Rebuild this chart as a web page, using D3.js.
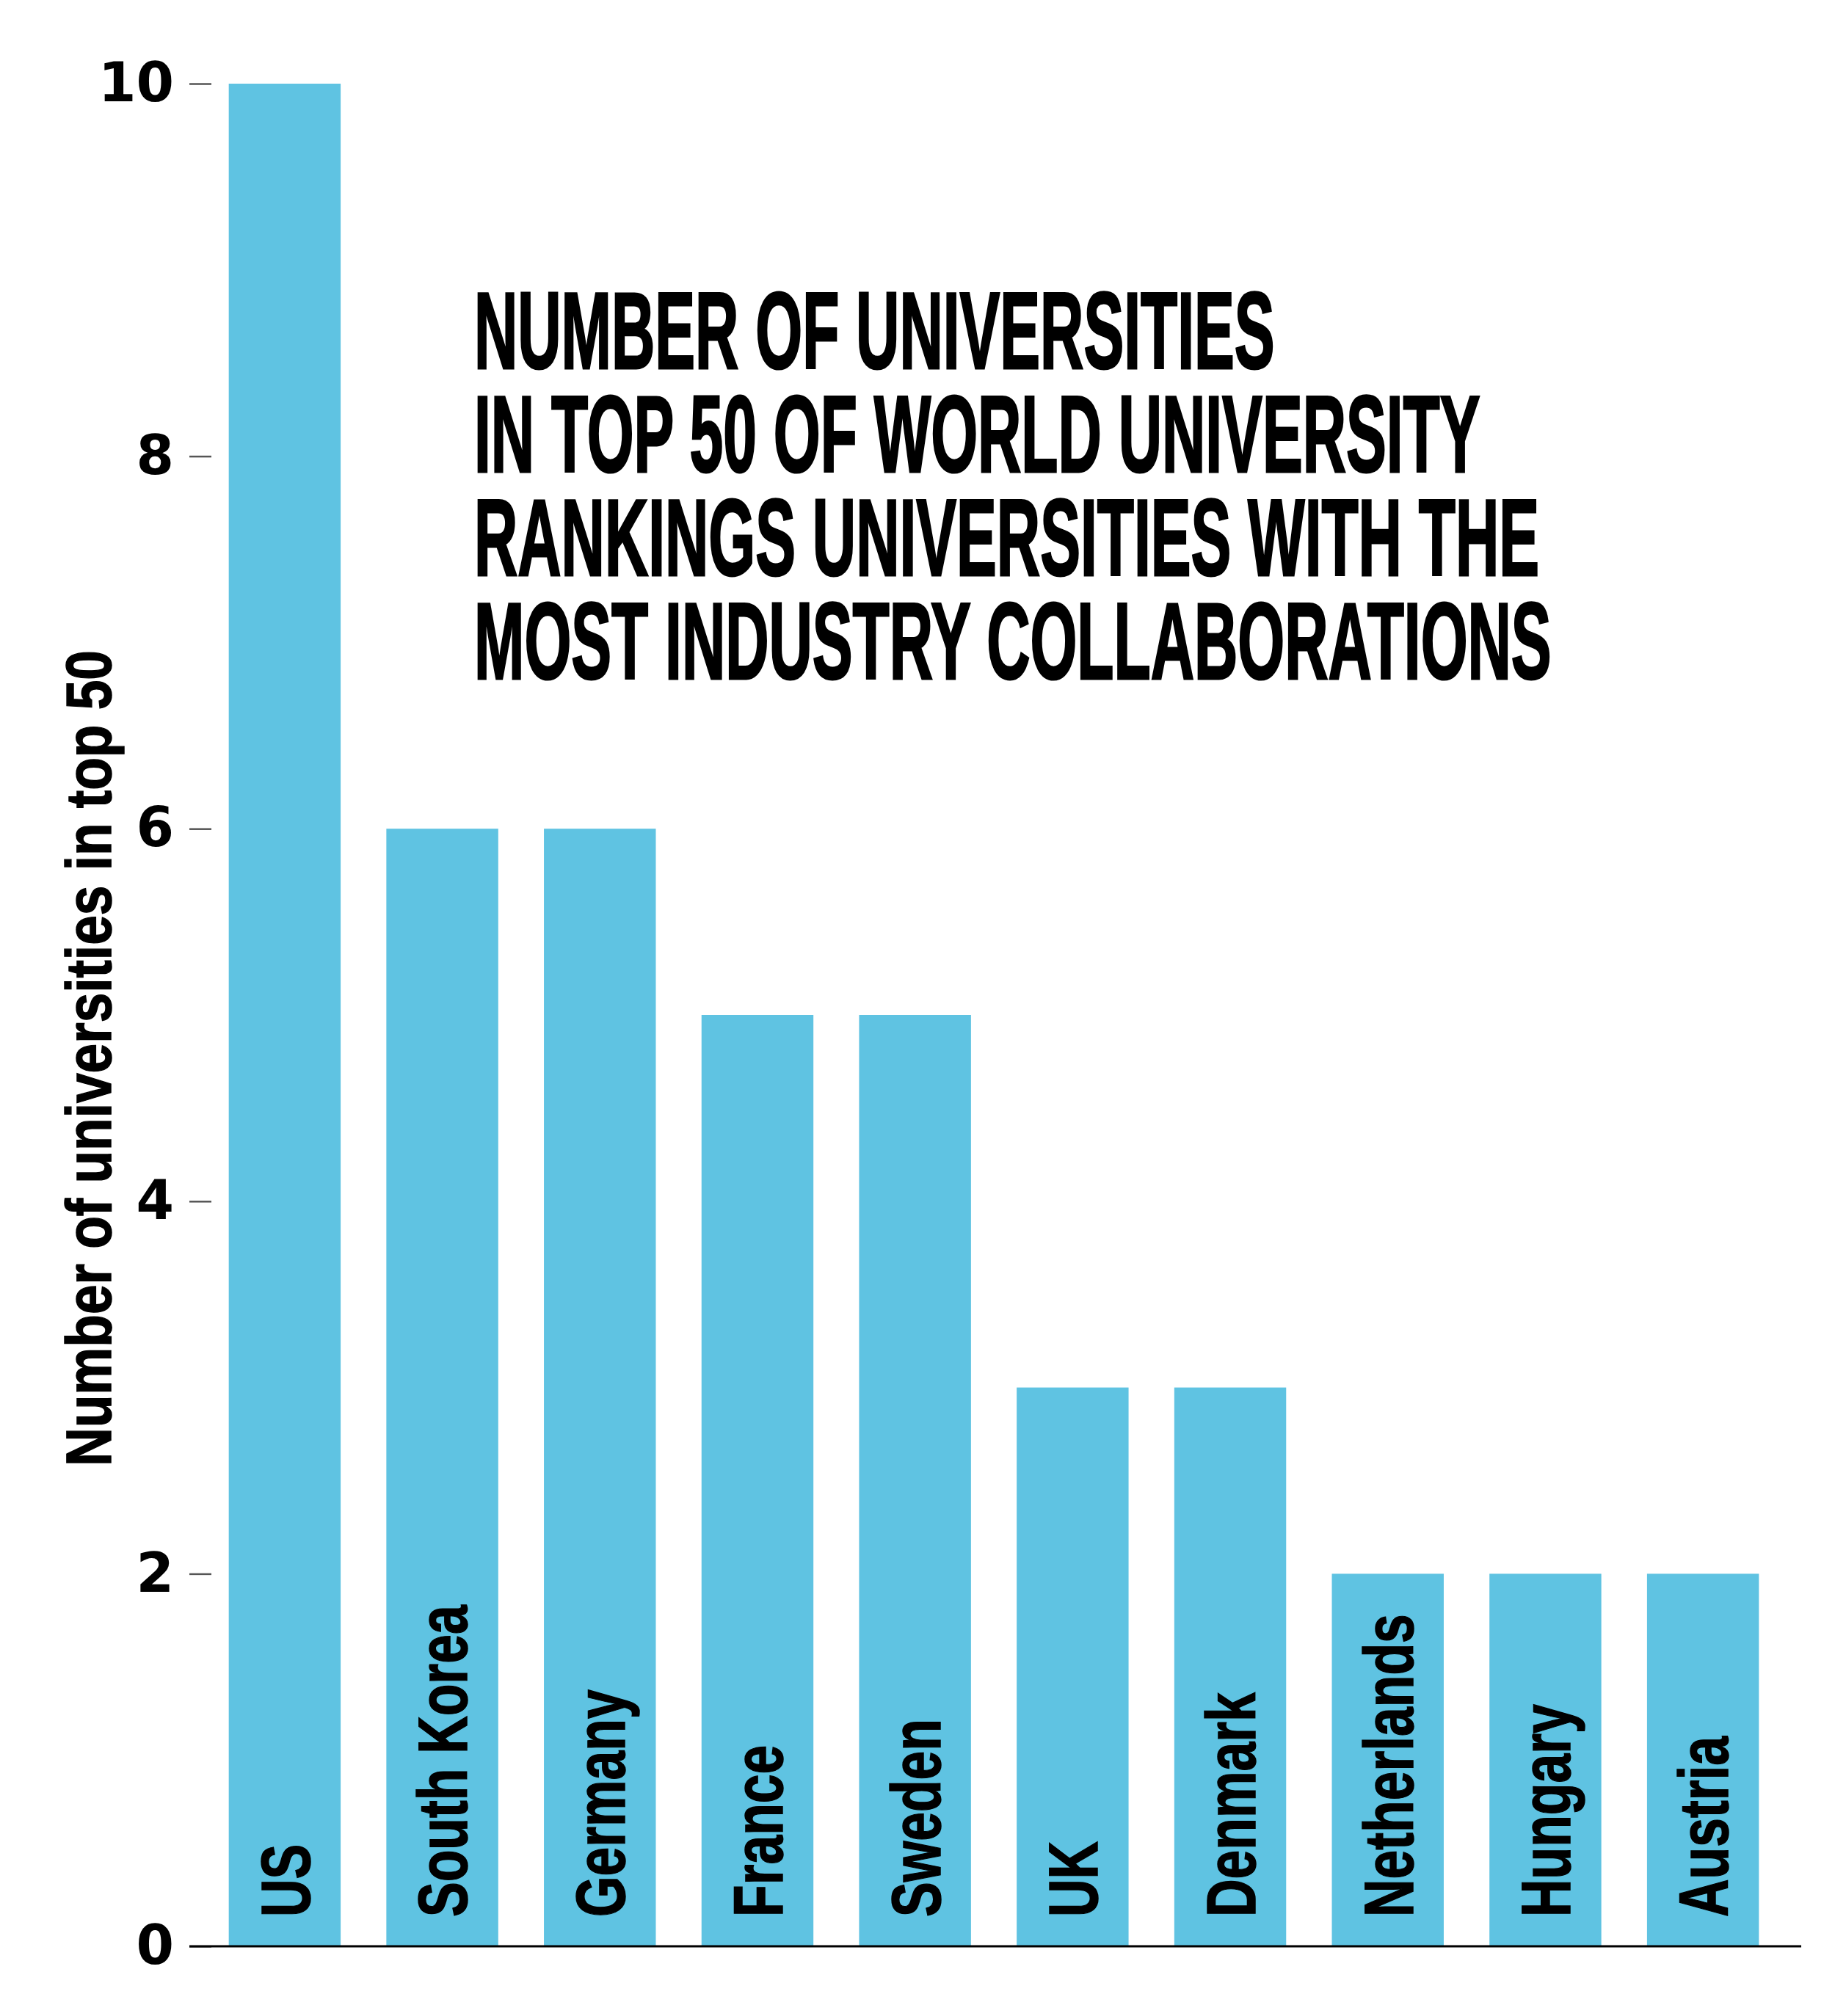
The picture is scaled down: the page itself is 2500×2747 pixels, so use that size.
<!DOCTYPE html>
<meta charset="utf-8">
<script src="https://d3js.org/d3.v7.min.js"></script>
<style>
  body { margin: 0; background: #fff; }
  text { font-family: "Liberation Sans", Arial, sans-serif; font-weight: bold; fill: #000; }
</style>
<body>
<div id="chart"></div>
<script>
  // data
  const countries = ["US", "South Korea", "Germany", "France", "Sweden", "UK", "Denmark", "Netherlands", "Hungary", "Austria"];
  const counts = [10, 6, 6, 5, 5, 3, 3, 2, 2, 2];
  const yTicks = [0, 2, 4, 6, 8, 10];
  const titleLines = [
    "NUMBER OF UNIVERSITIES",
    "IN TOP 50 OF WORLD UNIVERSITY",
    "RANKINGS UNIVERSITIES WITH THE",
    "MOST INDUSTRY COLLABORATIONS"
  ];
  const yLabel = "Number of universities in top 50";

  const W = 2500, H = 2747;
  const margin = {top: 114, right: 50, bottom: 95, left: 258};

  const svg = d3.select("#chart").append("svg")
    .attr("width", W)
    .attr("height", H);

  const data = countries.map((c, i) => ({country: c, value: counts[i]}));

  const x = d3.scaleBand()
    .domain(countries)
    .range([margin.left, W - margin.right])
    .paddingInner(0.29)
    .paddingOuter(0.25);

  const y = d3.scaleLinear()
    .domain([0, 10])
    .range([H - margin.bottom, margin.top]);

  // bars
  svg.append("g")
    .selectAll("rect")
    .data(data)
    .join("rect")
      .attr("x", d => x(d.country))
      .attr("y", d => y(d.value))
      .attr("width", x.bandwidth())
      .attr("height", d => y(0) - y(d.value))
      .attr("fill", "#5fc3e2");

  // bar labels, rotated, inside the bars
  svg.append("g")
    .selectAll("text")
    .data(data)
    .join("text")
      .attr("transform", d => `translate(${x(d.country) + x.bandwidth() / 2}, ${y(0) - 40}) rotate(-90) scale(0.76,1)`)
      .attr("dy", "0.36em")
      .attr("stroke", "#000")
      .attr("stroke-width", 1.5)
      .style("font-size", "94px")
      .text(d => d.country);

  // y axis: short ticks, no domain line
  const yAxis = svg.append("g")
    .attr("transform", `translate(${margin.left + 30}, 0)`)
    .call(d3.axisLeft(y).tickValues(yTicks).tickSize(30).tickPadding(21).tickFormat(d3.format("d")));
  yAxis.select(".domain").remove();
  yAxis.selectAll(".tick line").attr("stroke", "#555").attr("stroke-width", 2.5);
  yAxis.selectAll(".tick text")
    .style("font-size", "74px")
    .style("font-family", "'DejaVu Sans', sans-serif")
    .attr("fill", "#000");

  // baseline
  svg.append("line")
    .attr("x1", margin.left)
    .attr("x2", 2454)
    .attr("y1", y(0))
    .attr("y2", y(0))
    .attr("stroke", "#000")
    .attr("stroke-width", 3);

  // y axis title, bottom end fixed
  svg.append("text")
    .attr("transform", `translate(119, 1998) rotate(-90) scale(0.83,1)`)
    .attr("text-anchor", "start")
    .attr("dy", "0.36em")
    .attr("stroke", "#000")
    .attr("stroke-width", 1.5)
    .style("font-size", "88px")
    .text(yLabel);

  // title block - one text, a tspan per line
  svg.append("text")
    .attr("transform", "translate(646, 502) scale(0.555,1)")
    .attr("stroke", "#000")
    .attr("stroke-width", 3)
    .style("font-size", "148px")
    .selectAll("tspan")
    .data(titleLines)
    .join("tspan")
      .attr("x", 0)
      .attr("dy", (d, i) => i === 0 ? 0 : 141)
      .text(d => d);
</script>
</body>
